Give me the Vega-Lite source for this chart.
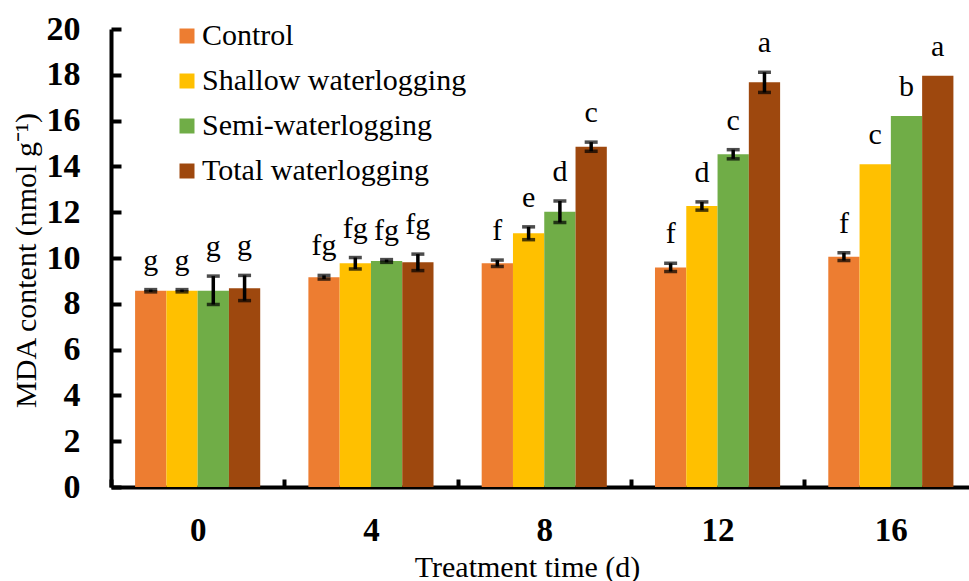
{
  "$schema": "https://vega.github.io/schema/vega-lite/v6.json",
  "autosize": {"type": "none"},
  "padding": {"left": 111, "top": 29, "right": 0, "bottom": 94},
  "width": 858,
  "height": 458,
  "background": "white",
  "config": {
    "view": {"stroke": null},
    "font": "Liberation Serif",
    "legend": {"labelFont": "Liberation Serif", "labelFontSize": 30, "labelLimit": 500}
  },
  "data": {
    "values": [
      {"time": "0", "group": "Control", "mean": 8.57, "lo": 8.52, "hi": 8.62, "letter": "g"},
      {"time": "0", "group": "Shallow waterlogging", "mean": 8.57, "lo": 8.52, "hi": 8.62, "letter": "g"},
      {"time": "0", "group": "Semi-waterlogging", "mean": 8.57, "lo": 7.97, "hi": 9.21, "letter": "g"},
      {"time": "0", "group": "Total waterlogging", "mean": 8.68, "lo": 8.14, "hi": 9.24, "letter": "g"},
      {"time": "4", "group": "Control", "mean": 9.16, "lo": 9.08, "hi": 9.24, "letter": "fg"},
      {"time": "4", "group": "Shallow waterlogging", "mean": 9.77, "lo": 9.52, "hi": 10.02, "letter": "fg"},
      {"time": "4", "group": "Semi-waterlogging", "mean": 9.87, "lo": 9.81, "hi": 9.93, "letter": "fg"},
      {"time": "4", "group": "Total waterlogging", "mean": 9.81, "lo": 9.45, "hi": 10.17, "letter": "fg"},
      {"time": "8", "group": "Control", "mean": 9.77, "lo": 9.63, "hi": 9.91, "letter": "f"},
      {"time": "8", "group": "Shallow waterlogging", "mean": 11.08, "lo": 10.8, "hi": 11.36, "letter": "e"},
      {"time": "8", "group": "Semi-waterlogging", "mean": 12.02, "lo": 11.55, "hi": 12.49, "letter": "d"},
      {"time": "8", "group": "Total waterlogging", "mean": 14.86, "lo": 14.66, "hi": 15.06, "letter": "c"},
      {"time": "12", "group": "Control", "mean": 9.59, "lo": 9.41, "hi": 9.77, "letter": "f"},
      {"time": "12", "group": "Shallow waterlogging", "mean": 12.27, "lo": 12.09, "hi": 12.45, "letter": "d"},
      {"time": "12", "group": "Semi-waterlogging", "mean": 14.53, "lo": 14.33, "hi": 14.73, "letter": "c"},
      {"time": "12", "group": "Total waterlogging", "mean": 17.67, "lo": 17.23, "hi": 18.11, "letter": "a"},
      {"time": "16", "group": "Control", "mean": 10.06, "lo": 9.89, "hi": 10.23, "letter": "f"},
      {"time": "16", "group": "Shallow waterlogging", "mean": 14.09, "lo": 14.09, "hi": 14.09, "letter": "c"},
      {"time": "16", "group": "Semi-waterlogging", "mean": 16.2, "lo": 16.2, "hi": 16.2, "letter": "b"},
      {"time": "16", "group": "Total waterlogging", "mean": 17.96, "lo": 17.96, "hi": 17.96, "letter": "a"}
    ]
  },
  "encoding": {
    "x": {
      "field": "time",
      "type": "nominal",
      "sort": ["0", "4", "8", "12", "16"],
      "scale": {"domain": ["0", "4", "8", "12", "16"], "range": [0, 866.5], "paddingInner": 0, "paddingOuter": 0},
      "axis": {
        "title": "Treatment time (d)",
        "titleFont": "Liberation Serif",
        "titleFontSize": 30,
        "titleFontWeight": "normal",
        "titleColor": "black",
        "titleX": 416,
        "titleY": 89,
        "titleAlign": "center",
        "titleBaseline": "alphabetic",
        "labelAngle": 0,
        "labelFont": "Liberation Serif",
        "labelFontSize": 33,
        "labelFontWeight": "bold",
        "labelColor": "black",
        "labelPadding": 35,
        "labelBaseline": "top",
        "domainColor": "black",
        "domainWidth": 4,
        "tickBand": "extent",
        "tickColor": "black",
        "tickWidth": 4,
        "tickSize": -8,
        "grid": false
      }
    },
    "xOffset": {
      "field": "group",
      "type": "nominal",
      "scale": {"domain": ["Control", "Shallow waterlogging", "Semi-waterlogging", "Total waterlogging"], "paddingInner": 0, "paddingOuter": 0.77}
    }
  },
  "layer": [
    {
      "mark": {"type": "bar"},
      "encoding": {
        "y": {
          "field": "mean",
          "type": "quantitative",
          "scale": {"domain": [0, 20], "nice": false, "zero": true},
          "axis": {
            "title": "MDA content (nmol g⁻¹)",
            "titleFont": "Liberation Serif",
            "titleFontSize": 30,
            "titleFontWeight": "normal",
            "titleColor": "black",
            "titleAngle": -90,
            "titleX": -76,
            "titleY": 231,
            "titleAlign": "center",
            "titleBaseline": "alphabetic",
            "values": [0, 2, 4, 6, 8, 10, 12, 14, 16, 18, 20],
            "labelFont": "Liberation Serif",
            "labelFontSize": 34,
            "labelFontWeight": "bold",
            "labelColor": "black",
            "labelPadding": 41,
            "domainColor": "black",
            "domainWidth": 4,
            "tickColor": "black",
            "tickWidth": 4,
            "tickSize": -10,
            "grid": false
          }
        },
        "color": {
          "field": "group",
          "type": "nominal",
          "scale": {
            "domain": ["Control", "Shallow waterlogging", "Semi-waterlogging", "Total waterlogging"],
            "range": ["#ED7D31", "#FFC000", "#70AD47", "#9E480E"]
          },
          "legend": {
            "title": null,
            "orient": "none",
            "legendX": 61,
            "legendY": -8,
            "padding": 0,
            "symbolType": "square",
            "symbolSize": 225,
            "symbolStrokeWidth": 0,
            "labelFont": "Liberation Serif",
            "labelFontSize": 30,
            "labelLimit": 500,
            "labelColor": "black",
            "labelOffset": 0,
            "rowPadding": 15
          }
        }
      }
    },
    {
      "transform": [{"filter": "datum.hi > datum.mean"}],
      "mark": {"type": "rule", "color": "black", "strokeWidth": 3.5},
      "encoding": {
        "y": {"field": "lo", "type": "quantitative"},
        "y2": {"field": "hi"}
      }
    },
    {
      "transform": [{"filter": "datum.hi > datum.mean"}],
      "mark": {"type": "tick", "color": "black", "thickness": 3.5, "size": 13},
      "encoding": {
        "y": {"field": "lo", "type": "quantitative"}
      }
    },
    {
      "transform": [{"filter": "datum.hi > datum.mean"}],
      "mark": {"type": "tick", "color": "black", "thickness": 3.5, "size": 13},
      "encoding": {
        "y": {"field": "hi", "type": "quantitative"}
      }
    },
    {
      "mark": {"type": "text", "font": "Liberation Serif", "fontSize": 30, "color": "black", "baseline": "alphabetic", "dy": -20},
      "encoding": {
        "y": {"field": "hi", "type": "quantitative"},
        "text": {"field": "letter"}
      }
    }
  ]
}
